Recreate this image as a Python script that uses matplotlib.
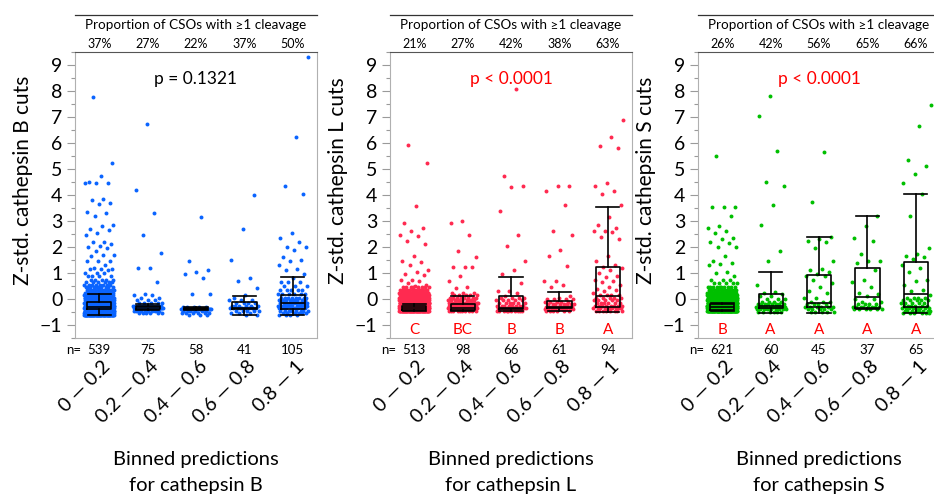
import numpy as np
import matplotlib.pyplot as plt

plt.rcParams['font.family'] = ['Lato', 'DejaVu Sans']

bins = ['0 — 0.2', '0.2 — 0.4', '0.4 — 0.6', '0.6 — 0.8', '0.8 — 1']

# ---- cathepsin B
b_pct = ['37%', '27%', '22%', '37%', '50%']
b_n = [539, 75, 58, 41, 105]
b_letters = ['', '', '', '', '']
b_lo = [-0.62, -0.42, -0.42, -0.62, -0.62]
b_q1 = [-0.38, -0.38, -0.40, -0.38, -0.38]
b_med = [-0.30, -0.32, -0.38, -0.35, -0.15]
b_q3 = [-0.10, -0.27, -0.35, -0.13, 0.17]
b_hi = [0.20, -0.20, -0.30, 0.13, 0.83]
b_single = [
    [7.78, 5.25, 4.72, 4.5, 4.47, 4.45, 4.45, 3.85, 3.8, 3.7, 3.65, 3.35, 3.3, 3.2,
     2.85, 2.8, 2.7, 2.65, 2.55, 2.45, 2.2, 2.2, 2.1, 2.05, 2.0, 1.95, 1.85, 1.7,
     1.7, 1.65, 1.45, 1.45, 1.45, 1.3, 1.2, 1.15, 1.15, 1.15, 1.1],
    [6.72, 4.2, 3.32, 2.45, 1.78, 1.18, 1.18, 0.65, 0.18, 0.15, 0.15],
    [3.15, 1.45, 1.1, 1.05, 0.95, 0.82, 0.18, 0.18],
    [4.0, 2.7, 1.5, 0.82, 0.68, 0.42, 0.15, 0.05],
    [9.3, 6.25, 4.35, 4.05, 2.55, 2.35, 2.2, 2.0, 2.0, 1.9, 1.6, 1.5, 1.45, 1.3,
     1.15, 1.1, 0.95, 0.8],
]
b_lvl = [
    [1.0, 0.9, 0.75, 0.65, 0.55, 0.45, 0.35, 0.25, 0.15, 0.05, -0.05, -0.15, -0.25, -0.35, -0.45, -0.55, -0.62],
    [0.05, -0.05, -0.15, -0.25, -0.35, -0.45, -0.55],
    [-0.3, -0.38, -0.45, -0.55, -0.6],
    [-0.05, -0.15, -0.25, -0.35, -0.45, -0.55, -0.62],
    [0.65, 0.5, 0.35, 0.2, 0.05, -0.05, -0.15, -0.25, -0.35, -0.45, -0.55, -0.62],
]
b_cnt = [
    [3, 4, 5, 6, 8, 10, 14, 18, 22, 28, 35, 45, 55, 70, 65, 60, 55],
    [2, 3, 5, 15, 25, 10, 6],
    [5, 30, 6, 6, 3],
    [3, 4, 6, 10, 5, 3, 2],
    [3, 3, 5, 6, 8, 10, 12, 12, 10, 8, 6, 4],
]

# ---- cathepsin L
l_pct = ['21%', '27%', '42%', '38%', '63%']
l_n = [513, 98, 66, 61, 94]
l_letters = ['C', 'BC', 'B', 'B', 'A']
l_lo = [-0.45, -0.45, -0.47, -0.47, -0.50]
l_q1 = [-0.42, -0.42, -0.38, -0.35, -0.32]
l_med = [-0.35, -0.35, -0.33, -0.30, 0.10]
l_q3 = [-0.25, -0.18, 0.10, -0.09, 1.23]
l_hi = [-0.20, 0.13, 0.85, 0.26, 3.55]
l_single = [
    [5.92, 5.25, 3.58, 2.92, 2.75, 2.62, 2.45, 2.42, 2.25, 2.1, 1.65, 1.45, 1.42,
     1.3, 1.1, 1.05, 0.95, 0.92, 0.75, 0.72, 0.7, 0.6, 0.55, 0.5],
    [3.0, 2.92, 2.45, 1.85, 1.6, 1.25, 1.25, 1.25, 0.88, 0.7, 0.45, 0.42],
    [8.08, 4.75, 4.35, 4.3, 3.4, 2.45, 2.05, 1.47, 1.1, 0.95, 0.6, 0.3, 0.3, 0.25, 0.12],
    [4.35, 4.35, 4.15, 3.6, 2.62, 2.45, 1.87, 1.65, 1.27, 0.68, 0.68, 0.55, 0.45, 0.1, 0.05],
    [6.9, 6.22, 5.9, 5.82, 4.45, 4.35, 4.15, 4.05, 3.6, 3.17, 2.85, 2.75, 2.62, 2.6,
     2.58, 2.38, 2.3, 1.65, 1.45, 1.3, 1.25, 1.2, 1.1, 1.0, 0.9, 0.85, 0.75, 0.7,
     0.65, 0.55, 0.45, 0.4, 0.35, 0.3, 0.25],
]
l_lvl = [
    [0.45, 0.35, 0.25, 0.15, 0.05, -0.05, -0.15, -0.25, -0.35, -0.45],
    [0.25, 0.15, 0.05, -0.05, -0.15, -0.25, -0.35, -0.45],
    [0.05, -0.05, -0.15, -0.25, -0.35, -0.45],
    [0.0, -0.1, -0.2, -0.3, -0.4, -0.47],
    [0.15, 0.05, -0.05, -0.15, -0.25, -0.35, -0.47],
]
l_cnt = [
    [8, 15, 25, 35, 50, 60, 70, 80, 90, 55],
    [3, 5, 8, 10, 15, 18, 18, 10],
    [4, 5, 6, 8, 14, 10],
    [4, 5, 8, 12, 10, 6],
    [4, 5, 5, 6, 8, 10, 8],
]

# ---- cathepsin S
s_pct = ['26%', '42%', '56%', '65%', '66%']
s_n = [621, 60, 45, 37, 65]
s_letters = ['B', 'A', 'A', 'A', 'A']
s_lo = [-0.47, -0.54, -0.54, -0.38, -0.54]
s_q1 = [-0.42, -0.35, -0.32, -0.35, -0.32]
s_med = [-0.30, -0.28, -0.15, 0.08, 0.19]
s_q3 = [-0.20, 0.19, 0.91, 1.19, 1.42]
s_hi = [-0.15, 1.02, 2.40, 3.20, 4.04]
s_single = [
    [5.5, 3.55, 3.55, 3.55, 3.2, 2.8, 2.75, 2.6, 2.55, 2.35, 2.3, 2.2, 2.15, 2.0,
     2.0, 1.65, 1.45, 1.4, 1.35, 1.3, 1.05, 1.0, 0.9],
    [7.82, 7.05, 5.7, 4.5, 4.35, 3.62, 2.85, 1.85, 1.45, 0.55, 0.28, 0.25, 0.2],
    [5.65, 3.75, 2.38, 2.3, 2.25, 2.2, 1.95, 1.45, 1.15, 1.1, 1.05, 0.95, 0.9,
     0.9, 0.75, 0.6, 0.45, 0.3, 0.25],
    [3.2, 2.8, 2.35, 2.25, 1.75, 1.45, 1.45, 1.4, 1.1, 0.75, 0.65, 0.45, 0.25, 0.2, 0.1],
    [7.45, 6.65, 5.35, 5.1, 4.8, 4.45, 4.05, 3.18, 1.95, 1.75, 1.65, 1.6, 1.55,
     1.3, 1.2, 1.05, 0.75, 0.7, 0.55, 0.35, 0.3, 0.15],
]
s_lvl = [
    [0.75, 0.6, 0.45, 0.35, 0.25, 0.15, 0.05, -0.05, -0.15, -0.25, -0.35, -0.45],
    [0.1, 0.0, -0.1, -0.2, -0.3, -0.4, -0.5],
    [0.05, -0.1, -0.2, -0.3, -0.4, -0.5],
    [0.0, -0.1, -0.2, -0.3, -0.38],
    [0.05, -0.05, -0.15, -0.25, -0.35, -0.45, -0.52],
]
s_cnt = [
    [3, 5, 10, 15, 25, 40, 60, 75, 90, 100, 100, 70],
    [2, 3, 4, 8, 12, 10, 6],
    [2, 3, 4, 6, 5, 5],
    [2, 2, 4, 8, 6],
    [4, 5, 5, 6, 8, 8, 6],
]

W, H = 934, 500
fig = plt.figure(figsize=(W / 100, H / 100), dpi=100)


def jitter(n, seed=0.31):
    # deterministic spread of points across the bin
    return ((np.arange(n) * 0.6180339887 + seed) % 1.0 - 0.5) * 0.62


def panel(left_px, color, pct, ns, letters, pval, pcolor,
          lo, q1, med, q3, hi, single, lvl, cnt, name):
    ax = fig.add_axes([left_px / W, (H - 338) / H, 242 / W, 286 / H])
    for i in range(5):
        ys = np.concatenate([np.array(single[i]), np.repeat(lvl[i], cnt[i])])
        xs = (i + 1) + jitter(len(ys), 0.17 * i + 0.31)
        ax.scatter(xs, ys, s=8, color=color, linewidths=0, zorder=1)

    stats = [dict(whislo=lo[i], q1=q1[i], med=med[i], q3=q3[i], whishi=hi[i])
             for i in range(5)]
    lp = dict(color='black', linewidth=1.2)
    ax.bxp(stats, positions=range(1, 6), widths=0.5, capwidths=0.48,
           showfliers=False, boxprops=lp, whiskerprops=lp, capprops=lp,
           medianprops=lp, zorder=3)

    ax.set_xlim(0.5, 5.5)
    ax.set_ylim(-1.45, 9.5)
    ax.set_yticks(range(-1, 10))
    ax.set_yticks(np.arange(-1.5, 9.6, 0.5), minor=True)
    ax.tick_params(axis='y', which='major', labelsize=14, length=6, width=0.8,
                   color='#9a9a9a', pad=3)
    ax.tick_params(axis='y', which='minor', length=3, width=0.8, color='#9a9a9a')
    ax.set_xticks([])
    for s in ['left', 'bottom', 'right']:
        ax.spines[s].set_color('#b0b0b0')
    ax.spines['top'].set_color('#555555')

    ax.set_ylabel(f'Z-std. cathepsin {name} cuts', fontsize=15)
    ax.yaxis.set_label_coords(-0.175, 0.55)

    # header above the plot
    ax.plot([0, 1], [1.129, 1.129], transform=ax.transAxes, color='#333333',
            linewidth=0.9, clip_on=False)
    ax.text(0.5, 1.096, 'Proportion of CSOs with ≥1 cleavage', transform=ax.transAxes,
            ha='center', va='center', fontsize=9.7)
    xt = ax.get_xaxis_transform()
    for i in range(5):
        ax.text(i + 1, 1.029, pct[i], transform=xt, ha='center', va='center', fontsize=9)
        ax.text(i + 1, -0.042, str(ns[i]), transform=xt, ha='center', va='center', fontsize=9.5)
        ax.text(i + 1.17, -0.09, bins[i], transform=xt, ha='right', va='center',
                rotation=45, rotation_mode='anchor', fontsize=14)
        if letters[i]:
            ax.text(i + 1, -1.18, letters[i], ha='center', va='center',
                    color='red', fontsize=11)
    ax.text(0.62, -0.042, 'n=', transform=xt, ha='right', va='center', fontsize=9.5)

    ax.text(0.5, 0.905, pval, transform=ax.transAxes, ha='center', va='center',
            color=pcolor, fontsize=12.5)
    fig.text((left_px + 121) / W, 1 - 460 / H, 'Binned predictions', ha='center',
             va='center', fontsize=14.5)
    fig.text((left_px + 121) / W, 1 - 485 / H, f'for cathepsin {name}', ha='center',
             va='center', fontsize=14.5)
    return ax


panel(75, '#0a64ff', b_pct, b_n, b_letters, 'p = 0.1321', 'black',
      b_lo, b_q1, b_med, b_q3, b_hi, b_single, b_lvl, b_cnt, 'B')
panel(390, '#ff2a50', l_pct, l_n, l_letters, 'p < 0.0001', 'red',
      l_lo, l_q1, l_med, l_q3, l_hi, l_single, l_lvl, l_cnt, 'L')
panel(698, '#00bf00', s_pct, s_n, s_letters, 'p < 0.0001', 'red',
      s_lo, s_q1, s_med, s_q3, s_hi, s_single, s_lvl, s_cnt, 'S')

fig.savefig('out.png', dpi=100)
